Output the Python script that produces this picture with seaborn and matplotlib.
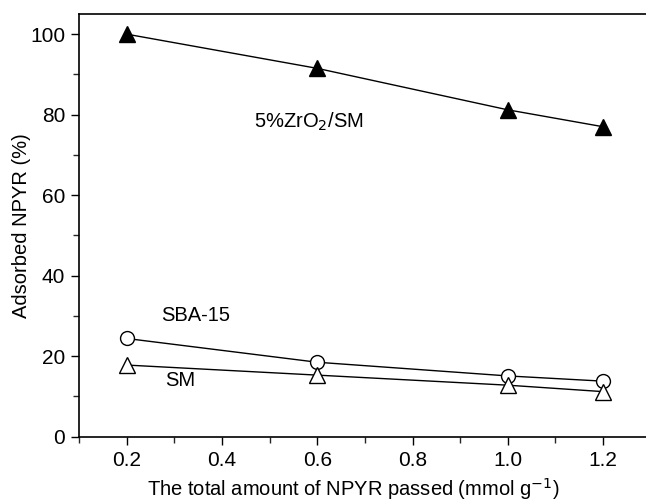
import matplotlib
matplotlib.use("Agg")
import matplotlib.pyplot as plt
import seaborn as sns
import pandas as pd
from matplotlib.ticker import MultipleLocator

x_amount = [0.2, 0.6, 1.0, 1.2]
zro2_sm = [100.0, 91.5, 81.2, 77.0]
sba15 = [24.4, 18.5, 15.1, 13.8]
sm = [17.8, 15.3, 12.8, 11.2]

sns.set_theme(style="ticks")
plt.rcParams['font.family'] = ['Liberation Sans', 'DejaVu Sans']
plt.rcParams['text.color'] = 'black'
plt.rcParams['axes.labelcolor'] = 'black'

fig = plt.figure(figsize=(6.46, 5.04), dpi=100)
ax = fig.add_axes([0.1223, 0.1335, 0.885, 0.8387])

series = [
    (zro2_sm, "^", "black", 12),
    (sba15, "o", "white", 10),
    (sm, "^", "white", 11.5),
]
for vals, mk, fc, ms in series:
    df = pd.DataFrame({"x": x_amount, "y": vals})
    sns.lineplot(data=df, x="x", y="y", ax=ax, color="black", linewidth=1.0,
                 marker=mk, markersize=ms, markerfacecolor=fc,
                 markeredgecolor="black", markeredgewidth=1.0)

ax.set_xlim(0.1, 1.3)
ax.set_ylim(0, 105)
ax.xaxis.set_major_locator(MultipleLocator(0.2))
ax.xaxis.set_minor_locator(MultipleLocator(0.1))
ax.yaxis.set_major_locator(MultipleLocator(20))
ax.yaxis.set_minor_locator(MultipleLocator(10))
ax.set_xticks([0.2, 0.4, 0.6, 0.8, 1.0, 1.2])
ax.set_xticklabels(["0.2", "0.4", "0.6", "0.8", "1.0", "1.2"])
ax.tick_params(axis="both", which="major", direction="out", length=6, width=1.0,
               labelsize=15, colors="black", pad=4)
ax.tick_params(axis="both", which="minor", direction="out", length=4, width=1.0)
ax.tick_params(top=False, right=False, which="both")
for s in ax.spines.values():
    s.set_color("black")
    s.set_linewidth(1.2)

ax.set_xlabel("The total amount of NPYR passed (mmol g$^{-1}$)", fontsize=14.5)
ax.set_ylabel("Adsorbed NPYR (%)", fontsize=14.5)
ax.xaxis.set_label_coords(0.479, -0.092)
ax.yaxis.set_label_coords(-0.084, 0.5)

ax.text(0.467, 78.2, "5%ZrO$_2$/SM", fontsize=14.5, va="center", ha="left")
ax.text(0.272, 30.2, "SBA-15", fontsize=14.5, va="center", ha="left")
ax.text(0.281, 14.0, "SM", fontsize=14.5, va="center", ha="left")

fig.savefig("out.png", dpi=100)
